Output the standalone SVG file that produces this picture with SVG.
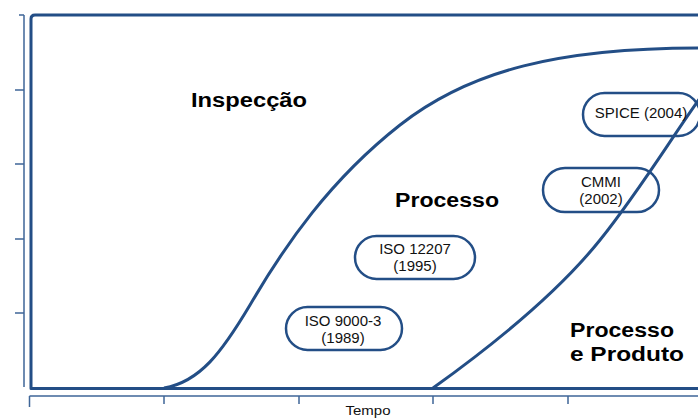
<svg xmlns="http://www.w3.org/2000/svg" width="698" height="418" viewBox="0 0 698 418">
  <style>
    .frame { fill: none; stroke: #234e86; stroke-width: 3; stroke-linejoin: round; }
    .axis { fill: none; stroke: #3f6698; stroke-width: 1.5; }
    .curve { fill: none; stroke: #234e86; stroke-width: 3; }
    .pill { fill: none; stroke: #234e86; stroke-width: 2.5; }
    .pt { font-family: "Liberation Sans", Arial, sans-serif; font-size: 15px; fill: #111; text-anchor: middle; }
    .big { font-family: "Liberation Sans", Arial, sans-serif; font-size: 20px; font-weight: bold; fill: #000; }
    .ax { font-family: "Liberation Sans", Arial, sans-serif; font-size: 12px; fill: #111; text-anchor: middle; }
  </style>
  <rect width="698" height="418" fill="#ffffff"/>
  <g id="axes">
    <path class="axis" d="M24,15 V387 M19,15 H24 M15,90 H24 M15,164 H24 M15,239 H24 M15,313 H24"/>
    <path class="axis" d="M29.5,396 H698 M29.5,396 V407 M164,396 V404 M299,396 V404 M433,396 V404 M568,396 V404"/>
    <text class="ax" x="368" y="414.5" textLength="45" lengthAdjust="spacingAndGlyphs">Tempo</text>
  </g>
  <g id="frame">
    <path class="frame" d="M700,388.5 H31 V19 Q31,15 35,15 H700"/>
  </g>
  <g id="connectors">
    <path class="curve" d="M164,388 C200,382 222,352 250,305 C285,245 330,180 400,125 C470,70 560,48 700,48"/>
    <path class="curve" d="M433,388 C500,340 560,290 600,240 C640,190 670,140 700,98"/>
  </g>
  <g id="label-inspeccao">
    <text class="big" x="191" y="107" textLength="116" lengthAdjust="spacingAndGlyphs">Inspecção</text>
  </g>
  <g id="label-processo">
    <text class="big" x="395" y="207" textLength="104" lengthAdjust="spacingAndGlyphs">Processo</text>
  </g>
  <g id="label-processo-produto">
    <text class="big" x="570" y="337" textLength="104" lengthAdjust="spacingAndGlyphs">Processo</text>
    <text class="big" x="570" y="361" textLength="114" lengthAdjust="spacingAndGlyphs">e Produto</text>
  </g>
  <g id="node-iso9000">
    <rect class="pill" x="286" y="307" width="116" height="43" rx="21.5"/>
    <text class="pt" x="343" y="326">ISO 9000-3</text>
    <text class="pt" x="343" y="343">(1989)</text>
  </g>
  <g id="node-iso12207">
    <rect class="pill" x="355" y="236" width="120" height="43" rx="21.5"/>
    <text class="pt" x="415" y="254">ISO 12207</text>
    <text class="pt" x="415" y="271">(1995)</text>
  </g>
  <g id="node-cmmi">
    <rect class="pill" x="543" y="168" width="116" height="44" rx="22"/>
    <text class="pt" x="601" y="187">CMMI</text>
    <text class="pt" x="601" y="204">(2002)</text>
  </g>
  <g id="node-spice">
    <rect class="pill" x="583" y="93" width="117" height="43" rx="21.5"/>
    <text class="pt" x="641" y="118">SPICE (2004)</text>
  </g>
</svg>
